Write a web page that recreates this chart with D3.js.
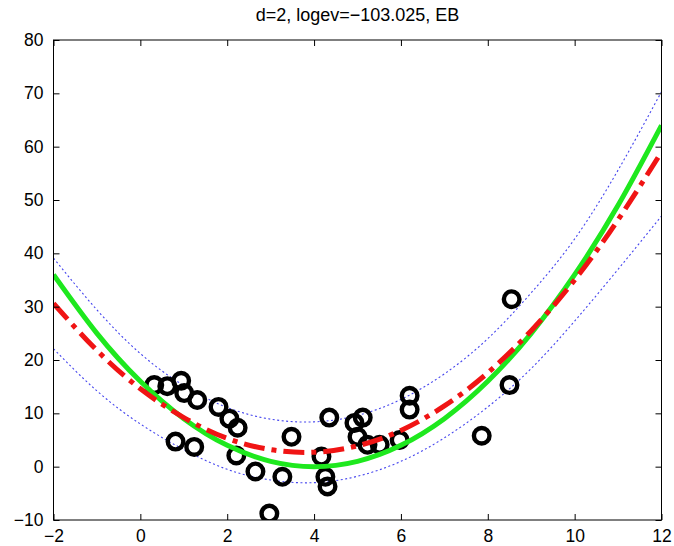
<!DOCTYPE html>
<html>
<head>
<meta charset="utf-8">
<script src="https://cdn.jsdelivr.net/npm/d3@7"></script>
<style>
  html, body { margin: 0; padding: 0; background: #fff; }
  svg { display: block; }
  text { font-family: "Liberation Sans", Arial, Helvetica, sans-serif; fill: #000; }
</style>
</head>
<body>
<svg id="chart" width="674" height="546"></svg>
<script>
// ---------- data ----------
const titleText = "d=2, logev=\u2212103.025, EB";
const xTicks = [-2, 0, 2, 4, 6, 8, 10, 12];
const yTicks = [-10, 0, 10, 20, 30, 40, 50, 60, 70, 80];

// curve samples
const curveX     = [-2, -1, 0, 1, 2, 3, 4, 5, 6, 7, 8, 9, 10, 11, 12];
const trueY      = [36, 25, 16, 9, 4, 1, 0, 1, 4, 9, 16, 25, 36, 49, 64];
const fitY       = [30.6, 21.8, 14.6, 9.2, 5.3, 3.2, 2.7, 3.9, 6.8, 11.4, 17.6, 25.5, 35.0, 46.3, 59.0];
const upperY     = [39.1, 29.4, 21.2, 15.2, 11.1, 8.9, 8.4, 9.6, 12.6, 17.4, 24.0, 32.6, 42.7, 55.6, 70.3];
const lowerY     = [22.1, 14.2, 8.0, 3.2, -0.5, -2.5, -3.0, -1.8, 1.0, 5.4, 11.2, 18.4, 27.3, 37.0, 47.0];

// observations
const obsX = [0.32, 0.62, 0.94, 1.01, 1.31, 1.80, 2.05, 2.24, 0.81, 1.24, 2.21, 2.65, 3.27, 2.97, 3.48,
              4.17, 4.26, 4.31, 4.35, 4.93, 5.12, 5.00, 5.23, 5.51, 5.97, 6.20, 6.20, 7.86, 8.50, 8.55];
const obsY = [15.3, 15.1, 16.1, 13.8, 12.5, 11.2, 9.0, 7.3, 4.7, 3.7, 2.1, -0.9, -1.9, -8.8, 5.6,
              1.9, -1.9, -3.7, 9.2, 8.2, 9.2, 5.6, 4.1, 4.1, 5.0, 13.3, 10.7, 5.8, 15.3, 31.4];

// ---------- layout ----------
const svg = d3.select("#chart");
const L = 53.5, R = 661.5, T = 40, B = 520;
const x = d3.scaleLinear().domain([-2, 12]).range([L, R]);
const y = d3.scaleLinear().domain([-10, 80]).range([B, T]);

const defs = svg.append("defs");
defs.append("clipPath").attr("id", "clip")
  .append("rect").attr("x", L).attr("y", T).attr("width", R - L).attr("height", B - T);

const plot = svg.append("g").attr("clip-path", "url(#clip)");

const toPts = ys => curveX.map((d, i) => [d, ys[i]]);
const line = d3.line().x(d => x(d[0])).y(d => y(d[1])).curve(d3.curveNatural);

// error bands
[upperY, lowerY].forEach(arr => {
  plot.append("path").attr("d", line(toPts(arr)))
    .attr("fill", "none").attr("stroke", "#4646ee").attr("stroke-width", 1.1)
    .attr("stroke-dasharray", "2,2.5");
});

// observations
plot.selectAll("circle.obs").data(obsX.map((d, i) => [d, obsY[i]]))
  .enter().append("circle").attr("class", "obs")
  .attr("cx", d => x(d[0])).attr("cy", d => y(d[1])).attr("r", 7.8)
  .attr("fill", "none").attr("stroke", "#000").attr("stroke-width", 4.4);

// true function (green)
plot.append("path").attr("d", line(toPts(trueY)))
  .attr("fill", "none").attr("stroke", "#1ee81e").attr("stroke-width", 5);

// fit (red dash-dot)
plot.append("path").attr("d", line(toPts(fitY)))
  .attr("fill", "none").attr("stroke", "#f01414").attr("stroke-width", 5)
  .attr("stroke-dasharray", "21,7,5,7");

// ---------- axes ----------
const tickLen = 6;
const ax = svg.append("g");
ax.append("rect").attr("x", L).attr("y", T).attr("width", R - L).attr("height", B - T)
  .attr("fill", "none").attr("stroke", "#000").attr("stroke-width", 1);

const fmt = d => d < 0 ? "\u2212" + Math.abs(d) : d;
const xAxisB = d3.axisBottom(x).tickValues(xTicks).tickSizeInner(-tickLen).tickSizeOuter(0)
  .tickPadding(10).tickFormat(fmt);
const xAxisT = d3.axisTop(x).tickValues(xTicks).tickSizeInner(-tickLen).tickSizeOuter(0).tickFormat("");
const yAxisL = d3.axisLeft(y).tickValues(yTicks).tickSizeInner(-tickLen).tickSizeOuter(0)
  .tickPadding(10).tickFormat(fmt);
const yAxisR = d3.axisRight(y).tickValues(yTicks).tickSizeInner(-tickLen).tickSizeOuter(0).tickFormat("");

function style(g) {
  g.select(".domain").remove();
  g.selectAll(".tick line").attr("stroke", "#000").attr("stroke-width", 1);
  g.selectAll(".tick text").attr("font-size", 17.5).attr("fill", "#000")
    .attr("font-family", "'Liberation Sans', Arial, sans-serif");
}
ax.append("g").attr("transform", `translate(0,${B})`).call(xAxisB).call(style);
ax.append("g").attr("transform", `translate(0,${T})`).call(xAxisT).call(style);
ax.append("g").attr("transform", `translate(${L},0)`).call(yAxisL).call(style);
ax.append("g").attr("transform", `translate(${R},0)`).call(yAxisR).call(style);

// title
svg.append("text").attr("x", (L + R) / 2).attr("y", 21)
  .attr("text-anchor", "middle").attr("font-size", 18).text(titleText);
</script>
</body>
</html>
